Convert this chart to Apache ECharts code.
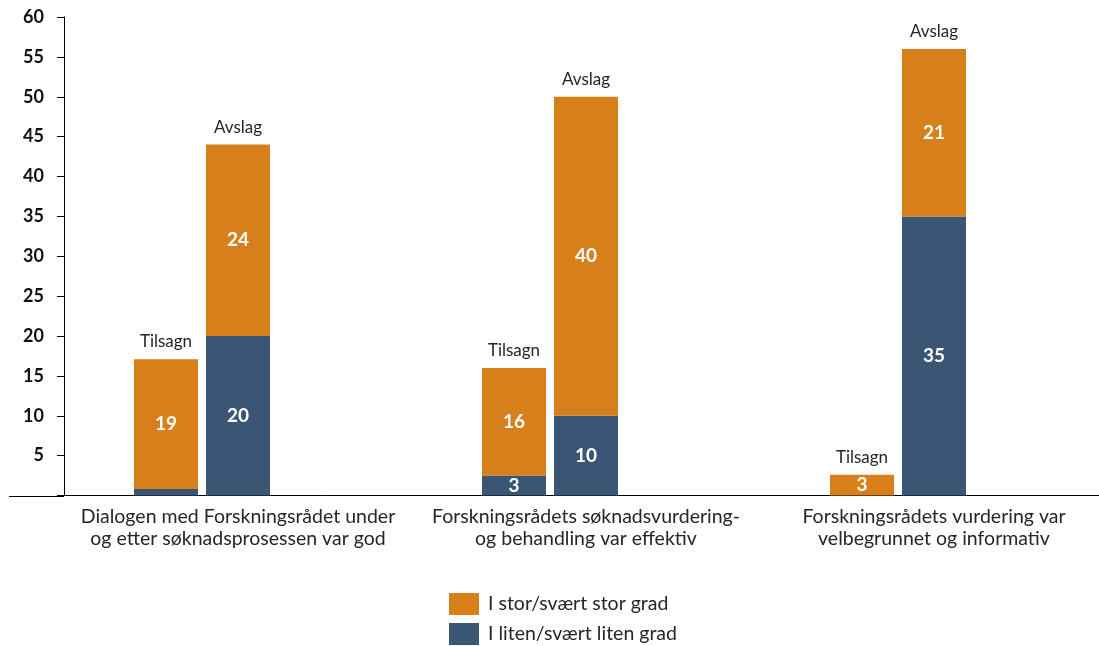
<!DOCTYPE html>
<html>
<head>
<meta charset="utf-8">
<script src="https://cdn.jsdelivr.net/npm/echarts@6/dist/echarts.min.js"></script>
<style>html,body{margin:0;padding:0;background:#fff;overflow:hidden}#c{width:1108px;height:646px}</style>
</head>
<body>
<div id="c"></div>
<script>
const categories = [
  'Dialogen med Forskningsrådet under\nog etter søknadsprosessen var god',
  'Forskningsrådets søknadsvurdering-\nog behandling var effektiv',
  'Forskningsrådets vurdering var\nvelbegrunnet og informativ'
];
const seriesNames = ['I stor/svært stor grad', 'I liten/svært liten grad'];
const groupNames = ['Tilsagn', 'Avslag'];
// bar heights
const tilsagnLiten = [0.8, 2.5, 0];
const tilsagnStor = [16.3, 13.5, 2.6];
const avslagLiten = [20, 10, 35];
const avslagStor = [24, 40, 21];
// printed segment labels
const tilsagnLitenLbl = ['', '3', ''];
const tilsagnStorLbl = ['19', '16', '3'];
const avslagLitenLbl = ['20', '10', '35'];
const avslagStorLbl = ['24', '40', '21'];
const yTicks = [5, 10, 15, 20, 25, 30, 35, 40, 45, 50, 55, 60];

const ORANGE = '#D67F1B', BLUE = '#3B5674', FONT = 'Lato', TXT = '#262626';

function seg(name, stack, data, labels, color) {
  return {
    type: 'bar', name: name, stack: stack, data: data, barWidth: 64, barGap: '12.5%',
    itemStyle: { color: color }, silent: true,
    label: { show: true, position: 'inside', color: '#fff', fontFamily: FONT, fontWeight: 'bold', fontSize: 19,
      formatter: p => labels[p.dataIndex] }
  };
}
function topLabel(stack, text) {
  return {
    type: 'bar', name: text, stack: stack, data: [0, 0, 0], barWidth: 64, barGap: '12.5%',
    itemStyle: { color: 'rgba(0,0,0,0)' }, silent: true,
    label: { show: true, position: 'top', distance: 9, color: TXT, fontFamily: FONT, fontSize: 17, formatter: text }
  };
}

const chart = echarts.init(document.getElementById('c'), null, { renderer: 'canvas' });
chart.setOption({
  animation: false,
  grid: { left: 64, right: 0, top: 17, bottom: 150.5, containLabel: false },
  legend: {
    data: seriesNames, orient: 'vertical', left: 449, top: 593, padding: 0,
    itemWidth: 30, itemHeight: 22, itemGap: 8,
    icon: 'rect', selectedMode: false,
    textStyle: { fontFamily: FONT, fontSize: 19.5, color: TXT, padding: [0, 0, 0, 4] }
  },
  xAxis: {
    type: 'category', data: categories,
    axisLine: { lineStyle: { color: '#000', width: 1 } },
    axisTick: { show: false },
    axisLabel: { interval: 0, fontFamily: FONT, fontSize: 19.5, color: TXT, lineHeight: 22, margin: 10 }
  },
  yAxis: {
    type: 'value', min: 0, max: 60, interval: 5,
    splitLine: { show: false },
    axisLine: { show: true, lineStyle: { color: '#000', width: 1 } },
    axisTick: { show: true, length: 7, lineStyle: { color: '#000' } },
    axisLabel: { fontFamily: FONT, fontSize: 18, fontWeight: 'bold', color: '#111', margin: 20,
      formatter: v => (yTicks.indexOf(v) >= 0 ? String(v) : '') }
  },
  series: [
    seg(seriesNames[1], 'T', tilsagnLiten, tilsagnLitenLbl, BLUE),
    seg(seriesNames[0], 'T', tilsagnStor, tilsagnStorLbl, ORANGE),
    topLabel('T', groupNames[0]),
    seg(seriesNames[1], 'A', avslagLiten, avslagLitenLbl, BLUE),
    seg(seriesNames[0], 'A', avslagStor, avslagStorLbl, ORANGE),
    topLabel('A', groupNames[1]),
    { type: 'bar', name: 'spacer', stack: 'S', data: ['-', '-', '-'], barWidth: 64, barGap: '12.5%', silent: true }
  ]
});
const y0 = chart.convertToPixel({ yAxisIndex: 0 }, 0);
chart.setOption({
  graphic: [{ type: 'line', shape: { x1: 9, y1: Math.round(y0) + 0.5, x2: 64, y2: Math.round(y0) + 0.5 },
    style: { stroke: '#000', lineWidth: 1 }, silent: true }]
});
</script>
</body>
</html>
